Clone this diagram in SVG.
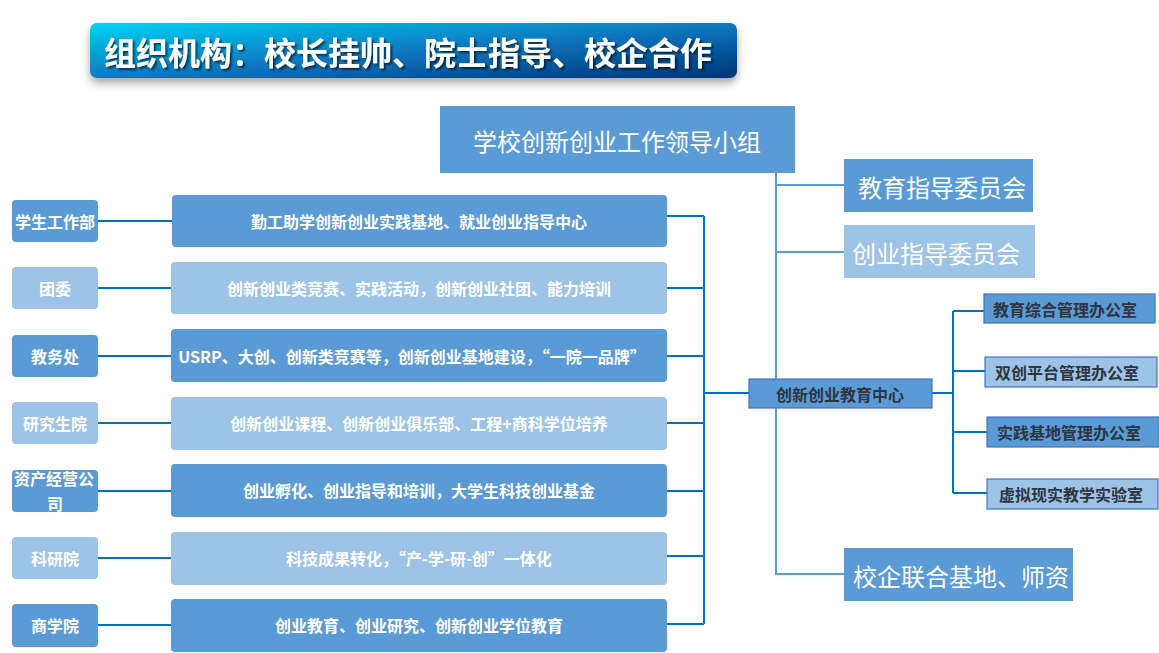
<svg xmlns="http://www.w3.org/2000/svg" width="1159" height="653" viewBox="0 0 1159 653">
<defs>
<linearGradient id="tg" x1="0" y1="0" x2="1" y2="1">
<stop offset="0" stop-color="#00d4f5"/>
<stop offset="0.5" stop-color="#0a78c0"/>
<stop offset="1" stop-color="#003478"/>
</linearGradient>
<filter id="sh" x="-10%" y="-40%" width="120%" height="190%">
<feGaussianBlur in="SourceAlpha" stdDeviation="4"/>
<feOffset dx="0" dy="5"/>
<feComponentTransfer><feFuncA type="linear" slope="0.35"/></feComponentTransfer>
<feMerge><feMergeNode/><feMergeNode in="SourceGraphic"/></feMerge>
</filter>
<filter id="ts" x="-5%" y="-20%" width="110%" height="140%">
<feGaussianBlur in="SourceAlpha" stdDeviation="1"/>
<feOffset dx="1.5" dy="1.5"/>
<feComponentTransfer><feFuncA type="linear" slope="0.6"/></feComponentTransfer>
<feMerge><feMergeNode/><feMergeNode in="SourceGraphic"/></feMerge>
</filter>
</defs>
<style>
text{font-family:"Noto Sans CJK SC","Liberation Sans",sans-serif;text-anchor:middle;dominant-baseline:central}
.d{fill:#5b9bd5}
.l{fill:#9dc3e6}
.w{fill:#fff}
.b{font-weight:bold}
.s16{font-size:16px}
.s24{font-size:24px}
.dk{fill:#2e3440;font-weight:bold;font-size:16px}
.bx{stroke:#4472c4;stroke-width:1.2}
.c1{stroke:#0070c0;stroke-width:2;fill:none}
.c2{stroke:#5b9bd5;stroke-width:2;fill:none}
</style>
<rect width="1159" height="653" fill="#fff"/>
<g id="title">
<rect x="90" y="23" width="647" height="55" rx="7" fill="url(#tg)" filter="url(#sh)"/>
<text x="408" y="51" class="w b" style="font-size:32px" filter="url(#ts)">组织机构：校长挂帅、院士指导、校企合作</text>
</g>
<g id="connectors">
<path class="c2" d="M776 173 V574 H844 M776 185 H844 M776 252 H844"/>
<path class="c1" d="M98 221 H172 M98 288 H172 M98 356 H172 M98 423 H172 M98 491 H172 M98 558 H172 M98 625 H172"/>
<path class="c1" d="M667 216 H704 M667 288 H704 M667 356 H704 M667 423 H704 M667 491 H704 M667 556 H704 M667 624 H704 M704 216 V624 M704 393 H749"/>
<path class="c1" d="M932 393 H953 M953 311 V493 M953 311 H984 M953 371 H985 M953 432 H987 M953 493 H987"/>
</g>
<g id="leader">
<rect x="440" y="106" width="355" height="67" class="d"/>
<text x="617" y="140" class="w s24">学校创新创业工作领导小组</text>
</g>
<g id="jiaoyu-zhidao">
<rect x="844" y="159" width="189" height="53" class="d"/>
<text x="942" y="186" class="w s24">教育指导委员会</text>
</g>
<g id="chuangye-zhidao">
<rect x="844" y="225" width="191" height="53" class="l"/>
<text x="936" y="252" class="w s24">创业指导委员会</text>
</g>
<g id="xiaoqi">
<rect x="844" y="548" width="229" height="53" class="d"/>
<text x="961" y="575" class="w s24">校企联合基地、师资</text>
</g>
<g id="center">
<rect x="749" y="379" width="183" height="29" class="d bx"/>
<text x="840" y="394" class="dk">创新创业教育中心</text>
</g>
<g id="office1">
<rect x="984" y="294" width="171" height="29" class="d bx"/>
<text x="1065" y="309" class="dk">教育综合管理办公室</text>
</g>
<g id="office2">
<rect x="985" y="357" width="172" height="30" class="l bx"/>
<text x="1067" y="372" class="dk">双创平台管理办公室</text>
</g>
<g id="office3">
<rect x="987" y="417" width="172" height="30" class="d bx"/>
<text x="1069" y="432" class="dk">实践基地管理办公室</text>
</g>
<g id="office4">
<rect x="987" y="479" width="171" height="30" class="l bx"/>
<text x="1071" y="494" class="dk">虚拟现实教学实验室</text>
</g>
<g id="left1"><rect x="12" y="200" width="86" height="42" rx="4" class="d"/><text x="55" y="221" class="w b s16">学生工作部</text></g>
<g id="left2"><rect x="12" y="267" width="86" height="42" rx="4" class="l"/><text x="55" y="288" class="w b s16">团委</text></g>
<g id="left3"><rect x="12" y="335" width="86" height="42" rx="4" class="d"/><text x="55" y="356" class="w b s16">教务处</text></g>
<g id="left4"><rect x="12" y="402" width="86" height="42" rx="4" class="l"/><text x="55" y="423" class="w b s16">研究生院</text></g>
<g id="left5"><rect x="12" y="470" width="86" height="42" rx="4" class="d"/><text x="54" y="478" class="w b s16">资产经营公</text><text x="55" y="503" class="w b s16">司</text></g>
<g id="left6"><rect x="12" y="537" width="86" height="42" rx="4" class="l"/><text x="55" y="558" class="w b s16">科研院</text></g>
<g id="left7"><rect x="12" y="604" width="86" height="43" rx="4" class="d"/><text x="55" y="625" class="w b s16">商学院</text></g>
<g id="mid1"><rect x="172" y="195" width="495" height="52" rx="4" class="d"/><text x="419" y="221" class="w b s16">勤工助学创新创业实践基地、就业创业指导中心</text></g>
<g id="mid2"><rect x="171" y="262" width="496" height="52" rx="4" class="l"/><text x="419" y="288" class="w b s16">创新创业类竞赛、实践活动，创新创业社团、能力培训</text></g>
<g id="mid3"><rect x="171" y="329" width="496" height="53" rx="4" class="d"/><text x="412" y="356" class="w b s16">USRP、大创、创新类竞赛等，创新创业基地建设，“一院一品牌”</text></g>
<g id="mid4"><rect x="171" y="397" width="496" height="53" rx="4" class="l"/><text x="419" y="423" class="w b s16">创新创业课程、创新创业俱乐部、工程+商科学位培养</text></g>
<g id="mid5"><rect x="171" y="464" width="496" height="53" rx="4" class="d"/><text x="419" y="490" class="w b s16">创业孵化、创业指导和培训，大学生科技创业基金</text></g>
<g id="mid6"><rect x="171" y="532" width="496" height="53" rx="4" class="l"/><text x="419" y="558" class="w b s16">科技成果转化，“产-学-研-创”一体化</text></g>
<g id="mid7"><rect x="171" y="599" width="496" height="53" rx="4" class="d"/><text x="419" y="625" class="w b s16">创业教育、创业研究、创新创业学位教育</text></g>
</svg>
